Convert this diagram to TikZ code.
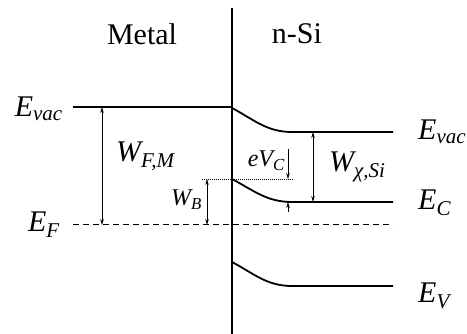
\documentclass[tikz,border=0pt]{standalone}
\usepackage{fontspec}
\setmainfont{Liberation Serif}
\usetikzlibrary{arrows.meta, positioning, calc}

\begin{document}
\begin{tikzpicture}[x=1pt, y=1pt,
    level/.style={line width=1.8pt},
    wall/.style={line width=2.6pt},
    fermi/.style={line width=1pt, dash pattern=on 6pt off 4pt},
    guide/.style={line width=0.6pt, dash pattern=on 1pt off 1pt},
    gap/.style={{Stealth[length=6pt,width=3.5pt]}-{Stealth[length=6pt,width=3.5pt]}, line width=0.8pt},
    arr/.style={-{Stealth[length=6pt,width=3.5pt]}, line width=0.8pt},
    side/.style={font=\fontsize{30}{30}\selectfont, inner sep=0pt},
    lbl/.style={font=\fontsize{30}{30}\selectfont\itshape, inner sep=0pt},
    small/.style={font=\fontsize{24}{24}\selectfont\itshape, inner sep=0pt},
]
\useasboundingbox (0,0) rectangle (467,334);

% interface and levels
\coordinate (wtop) at (232,326);
\coordinate (wbot) at (232,0);
\coordinate (mvac) at (73,227);
\coordinate (ivac) at (232,227);
\coordinate (fl) at (73,109);
\coordinate (fr) at (393,109);
\coordinate (svac0) at (232,226);
\coordinate (svac1) at (292,202);
\coordinate (svac2) at (393,202);
\coordinate (ec0) at (232,155);
\coordinate (ec1) at (292,132);
\coordinate (ec2) at (393,132);
\coordinate (ev0) at (232,72);
\coordinate (ev1) at (292,48);
\coordinate (ev2) at (393,48);

\draw[level] (mvac) -- (ivac);
\draw[fermi] (fl) -- (fr);
\draw[level] (svac0) to[out=-28, in=180] (svac1) -- (svac2);
\draw[level] (ec0) to[out=-28, in=180] (ec1) -- (ec2);
\draw[level] (ev0) to[out=-28, in=180] (ev1) -- (ev2);
\draw[wall] (wtop) -- (wbot);

% barrier guide
\coordinate (gl) at (202,155);
\coordinate (gr) at (294,155);
\draw[guide] (gl) -- (gr);

% gaps
\coordinate (wfm1) at (102,227);
\coordinate (wfm2) at (102,109);
\draw[gap] (wfm1) -- (wfm2);
\coordinate (wb1) at (207,155);
\coordinate (wb2) at (207,109);
\draw[gap] (wb1) -- (wb2);
\coordinate (wx1) at (313,202);
\coordinate (wx2) at (313,132);
\draw[gap] (wx1) -- (wx2);
\coordinate (vc1) at (288,185);
\coordinate (vc2) at (288,155);
\coordinate (vc3) at (288,122);
\coordinate (vc4) at (288,132);
\draw[arr] (vc1) -- (vc2);
\draw[arr] (vc3) -- (vc4);

% labels
\node[side] (metal) at (142,300) {Metal};
\node[side] (nsi) at (297,300) {n-Si};
\node[lbl, anchor=base east] (evacm) at (63,217) {E\textsubscript{vac}};
\node[lbl, anchor=base east] (ef) at (60,102) {E\textsubscript{F}};
\node[lbl, anchor=base west] (evacs) at (418,194) {E\textsubscript{vac}};
\node[lbl, anchor=base west] (ec) at (418,124) {E\textsubscript{C}};
\node[lbl, anchor=base west] (ev) at (418,31) {E\textsubscript{V}};
\node[lbl, anchor=base west] (wfm) at (116,172) {W\textsubscript{F,M}};
\node[small, anchor=base east] (wb) at (202,128) {W\textsubscript{B}};
\node[small, anchor=base east] (evc) at (285,167) {eV\textsubscript{C}};
\node[lbl, anchor=base west] (wx) at (329,162) {W\textsubscript{χ,Si}};
\end{tikzpicture}
\end{document}
